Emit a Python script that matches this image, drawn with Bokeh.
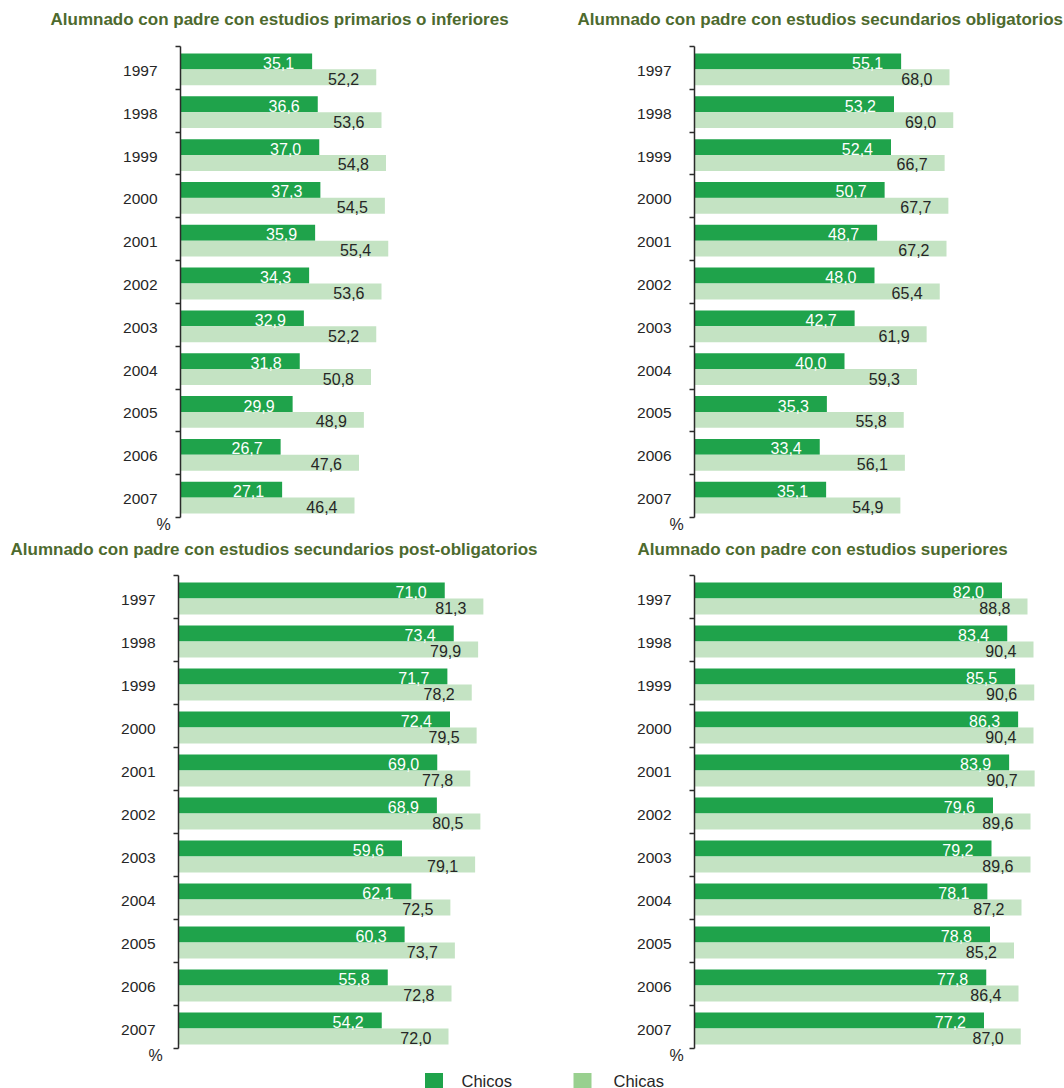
from bokeh.plotting import figure
from bokeh.models import Range1d, FixedTicker, CustomJSTickFormatter, Title, ColumnDataSource
from bokeh.layouts import column, row
from bokeh.embed import file_html
from bokeh.resources import INLINE
from bokeh.core.properties import value

# ---------------- data ----------------
years = ["1997", "1998", "1999", "2000", "2001", "2002", "2003", "2004", "2005", "2006", "2007"]

titles = [
    "Alumnado con padre con estudios primarios o inferiores",
    "Alumnado con padre con estudios secundarios obligatorios",
    "Alumnado con padre con estudios secundarios post-obligatorios",
    "Alumnado con padre con estudios superiores",
]

chicos_primarios = [35.1, 36.6, 37.0, 37.3, 35.9, 34.3, 32.9, 31.8, 29.9, 26.7, 27.1]
chicas_primarios = [52.2, 53.6, 54.8, 54.5, 55.4, 53.6, 52.2, 50.8, 48.9, 47.6, 46.4]

chicos_sec_oblig = [55.1, 53.2, 52.4, 50.7, 48.7, 48.0, 42.7, 40.0, 35.3, 33.4, 35.1]
chicas_sec_oblig = [68.0, 69.0, 66.7, 67.7, 67.2, 65.4, 61.9, 59.3, 55.8, 56.1, 54.9]

chicos_post_oblig = [71.0, 73.4, 71.7, 72.4, 69.0, 68.9, 59.6, 62.1, 60.3, 55.8, 54.2]
chicas_post_oblig = [81.3, 79.9, 78.2, 79.5, 77.8, 80.5, 79.1, 72.5, 73.7, 72.8, 72.0]

chicos_superiores = [82.0, 83.4, 85.5, 86.3, 83.9, 79.6, 79.2, 78.1, 78.8, 77.8, 77.2]
chicas_superiores = [88.8, 90.4, 90.6, 90.4, 90.7, 89.6, 89.6, 87.2, 85.2, 86.4, 87.0]

legend_labels = ["Chicos", "Chicas"]
unit_label = "%"

# ---------------- style ----------------
DARK = "#1fa34b"
LIGHT = "#c4e3c3"
LEG_LIGHT = "#99d08f"
TITLE_C = "#4d6a2e"
TXT = "#262626"
AXIS_C = "#2b2b2b"
FONT = "Liberation Sans"

PAGE_W = 1064
XMAX = 96.0
SCALE = 3.75
FW = int(round(XMAX * SCALE))  # 360
FH = 473


def fmt(v):
    return f"{v:.1f}".replace(".", ",")


def title_strip(height, texts, lefts, ymid):
    t = figure(width=PAGE_W, height=height, x_range=Range1d(0, PAGE_W),
               y_range=Range1d(height, 0), output_backend="svg",
               toolbar_location=None, min_border=0, x_axis_location=None,
               y_axis_location=None, outline_line_color=None)
    t.grid.visible = False
    t.text(x=lefts, y=[ymid] * len(texts), text=texts, text_align="left",
           text_baseline="middle", text_font=value(FONT), text_font_size="17px",
           text_font_style="bold", text_color=TITLE_C)
    return t


def panel(boys, girls, bl, br, bt, bb, pct_off):
    n = len(years)
    idx = list(range(n))
    p = figure(width=bl + FW + br, height=bt + FH + bb,
               x_range=Range1d(0, XMAX), y_range=Range1d(n - 0.5, -0.5),
               output_backend="svg", toolbar_location=None,
               min_border_left=bl, min_border_right=br,
               min_border_top=bt, min_border_bottom=bb,
               x_axis_location=None, outline_line_color=None,
               background_fill_color="white", border_fill_color="white")
    p.xgrid.visible = False
    p.ygrid.visible = False

    ax = p.yaxis[0]
    ax.ticker = FixedTicker(ticks=[i + 0.07 for i in idx],
                            minor_ticks=[i - 0.5 for i in range(n + 1)])
    ax.formatter = CustomJSTickFormatter(args=dict(years=years),
                                         code="return years[Math.round(tick)];")
    ax.major_tick_in = 0
    ax.major_tick_out = 0
    ax.minor_tick_in = 0
    ax.minor_tick_out = 5
    ax.minor_tick_line_color = AXIS_C
    ax.minor_tick_line_width = 1.5
    ax.axis_line_color = AXIS_C
    ax.axis_line_width = 1.5
    ax.major_label_standoff = 18
    ax.major_label_text_font = FONT
    ax.major_label_text_font_size = "15.5px"
    ax.major_label_text_color = TXT

    src = ColumnDataSource(dict(
        yb=[i - 0.15 for i in idx], yg=[i + 0.22 for i in idx],
        boys=boys, girls=girls,
        lb=[fmt(v) for v in boys], lg=[fmt(v) for v in girls]))

    p.hbar(y="yb", left=0, right="boys", height=0.372, fill_color=DARK,
           line_color=None, source=src)
    p.hbar(y="yg", left=0, right="girls", height=0.372, fill_color=LIGHT,
           line_color=None, source=src)
    p.text(x="boys", y="yb", text="lb", x_offset=-18, y_offset=1.5,
           text_align="right", text_baseline="middle", text_color="white",
           text_font=value(FONT), text_font_size="16px", source=src)
    p.text(x="girls", y="yg", text="lg", x_offset=-17, y_offset=1.5,
           text_align="right", text_baseline="middle", text_color=TXT,
           text_font=value(FONT), text_font_size="16px", source=src)

    pct = Title(text=unit_label, align="left", offset=pct_off, standoff=-4,
                text_font=FONT, text_font_size="16px", text_font_style="normal",
                text_color=TXT, vertical_align="top")
    p.add_layout(pct, "below")
    return p


# title strips
t1 = title_strip(36, titles[0:2], [50, 577], 19)
t2 = title_strip(28, titles[2:4], [10, 637], 10)

# panels: left figures start at x=0, right ones at x=544
p1 = panel(chicos_primarios, chicas_primarios, 180, 4, 8, 22, -24)
p2 = panel(chicos_sec_oblig, chicas_sec_oblig, 150, 10, 10, 20, -25)
p3 = panel(chicos_post_oblig, chicas_post_oblig, 178, 6, 8, 20, -30)
p4 = panel(chicos_superiores, chicas_superiores, 150, 10, 8, 20, -25)

# ---------------- legend ----------------
LH = 20
leg = figure(width=PAGE_W, height=LH, x_range=Range1d(0, PAGE_W), y_range=Range1d(LH, 0),
             output_backend="svg", toolbar_location=None, min_border=0,
             x_axis_location=None, y_axis_location=None, outline_line_color=None)
leg.grid.visible = False
sw_left = [424.5, 573.0]
leg.quad(left=sw_left, right=[x + 18 for x in sw_left], top=[4.5, 4.5], bottom=[19.5, 19.5],
         fill_color=[DARK, LEG_LIGHT], line_color=None)
leg.text(x=[461, 613], y=[12, 12], text=legend_labels, text_align="left",
         text_baseline="middle", text_font=value(FONT), text_font_size="16.5px",
         text_color=TXT)

layout = column(t1, row(p1, p2), t2, row(p3, p4), leg)
open("out.html", "w").write(file_html(layout, INLINE))
